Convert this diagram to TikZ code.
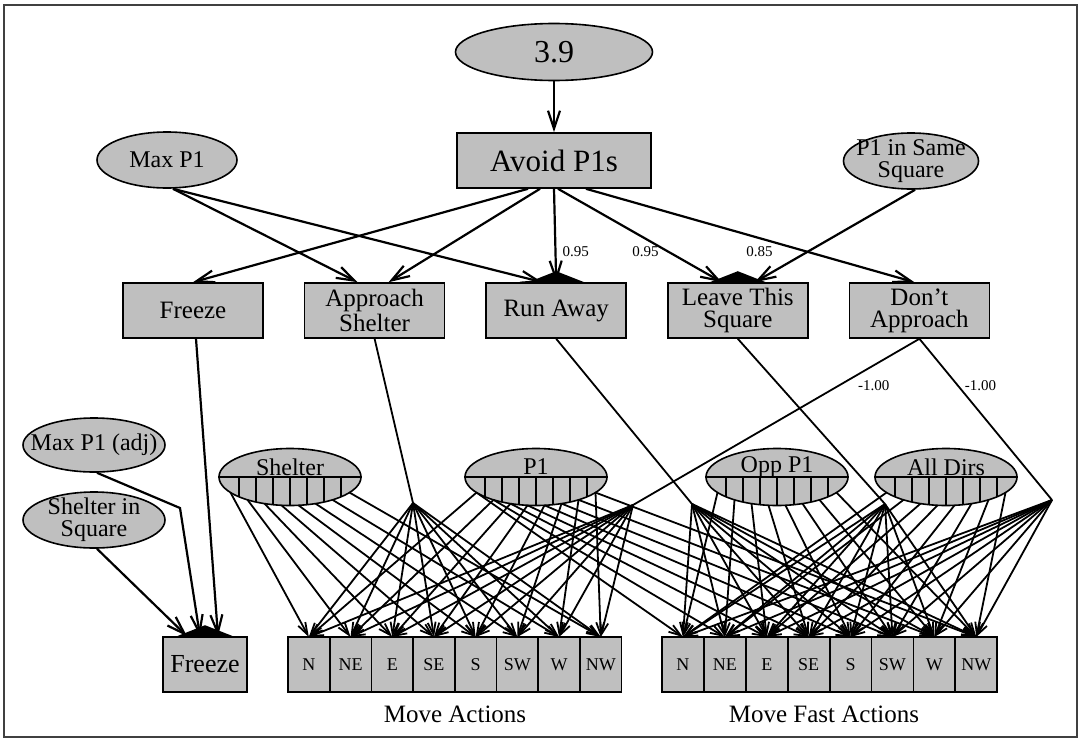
\documentclass[tikz,border=0pt]{standalone}
\usepackage{fontspec}
\setmainfont{Liberation Serif}
\usetikzlibrary{arrows.meta, positioning, shapes.geometric}

\begin{document}
\begin{tikzpicture}[
    x=0.5pt, y=-0.5pt,
    node distance=20pt and 20pt,
    every node/.style={align=center, inner sep=0pt},
    box/.style={draw, fill=black!25, line width=0.8pt, minimum height=27.5pt, font=\fontsize{12.5}{11}\selectfont},
    actbox/.style={box, minimum width=70pt},
    cell/.style={box, minimum width=20.85pt, outer sep=0pt, font=\fontsize{9}{9}\selectfont},
    oval/.style={draw, ellipse, fill=black!25, line width=0.8pt, inner xsep=-12pt, inner ysep=-4pt, minimum width=70pt, minimum height=28pt, font=\fontsize{12}{11}\selectfont},
    sensor/.style={oval, minimum width=71pt, minimum height=28.5pt},
    link/.style={-{Straight Barb[length=9pt, width=6pt]}, line width=1.1pt},
    wire/.style={-{Straight Barb[length=6pt, width=4pt]}, line width=0.9pt},
    feed/.style={line width=0.9pt},
    weight/.style={font=\fontsize{7.5}{8}\selectfont},
    mound/.style={fill=black}
]
\useasboundingbox (0,0) rectangle (1080,739);
\draw[line width=1pt, black!75] (4,5) rectangle (1077,737);

% Top nodes
\node[oval, minimum width=98.5pt, minimum height=28.5pt, font=\fontsize{16}{18}\selectfont] (root) at (554,52) {3.9};
\node[box, minimum width=97pt, font=\fontsize{15.5}{18}\selectfont] (avoid) at (554,160.5) {Avoid P1s};
\node[oval] (maxp) at (167,160) {Max P1};
\node[oval, minimum width=67.5pt] (same) at (911,161) {P1 in Same\\Square};

% Sub-behaviours
\node[actbox] (freeze) at (193,310.5) {Freeze};
\node[actbox, right=of freeze] (approach) {Approach\\Shelter};
\node[actbox, right=of approach] (runaway) {Run Away};
\node[actbox, right=of runaway] (leave) {Leave This\\Square};
\node[actbox, right=of leave] (dontapp) {Don't\\Approach};

% Inputs of the freeze action
\node[oval, minimum width=71pt, minimum height=27pt] (maxadj) at (94,445) {Max P1 (adj)};
\node[oval, minimum width=71pt] (shsq) at (94,520) {Shelter in\\Square};

% Direction sensors, one slot per direction
\foreach \nm/\cx/\txt in {shelter/290/Shelter, p1/536/P1, opp/777/Opp P1, dirs/946/All Dirs} {
  \node[sensor] (\nm) at (\cx,477) {};
  \node[font=\fontsize{12}{11}\selectfont] (\nm-name) at (\cx,467) {\txt};
  \draw[line width=0.8pt] (\nm.west) -- (\nm.east);
  \foreach \b in {-51,-34,...,51} {
    \pgfmathsetmacro\bary{477+28.5*sqrt(1-(\b/71)^2)}
    \draw[line width=0.8pt] (\cx+\b,477) -- (\cx+\b,\bary);
  }
  \foreach \k in {1,...,8} {
    \pgfmathsetmacro\slotx{(\k-4.5)*17}
    \pgfmathsetmacro\sloty{477+28.5*sqrt(1-(\slotx/71)^2)}
    \coordinate (\nm-\k) at (\cx+\slotx,\sloty);
  }
}

% Actions
\node[box, minimum width=42pt, font=\fontsize{13}{14}\selectfont] (freezeact) at (205,664.5) {Freeze};
\foreach \d [count=\i] in {N,NE,E,SE,S,SW,W,NW} {
  \node[cell] (mv-\i) at ({288+41.7*(\i-0.5)},664.5) {\d};
  \node[cell] (mf-\i) at ({662+41.9*(\i-0.5)},664.5) {\d};
}
\node[font=\fontsize{12.5}{14}\selectfont] (mvlbl) at (455,714) {Move Actions};
\node[font=\fontsize{12.5}{14}\selectfont] (mflbl) at (824,714) {Move Fast Actions};

% Branch points
\coordinate (fan-as) at (413,503);
\coordinate (fan-dm) at (633,505);
\coordinate (fan-ra) at (692,504);
\coordinate (fan-lt) at (885,504);
\coordinate (fan-df) at (1052,500);
\coordinate (bend-adj) at (180,508);

% Upper arrows
\draw[link] (root) -- (avoid);
\draw[link] ([xshift=-13pt]avoid.south) -- (freeze.north);
\draw[link] ([xshift=-7pt]avoid.south) -- ([xshift=7pt]approach.north);
\draw[link] (avoid.south) -- node[weight, pos=0.67, right=3pt] (w-ra) {0.95} (runaway.north);
\draw[link] ([xshift=2pt]avoid.south) -- node[weight, pos=0.67, left=4pt] (w-lt) {0.95} ([xshift=-8pt]leave.north);
\draw[link] ([xshift=16pt]avoid.south) -- ([xshift=-2.5pt]dontapp.north);
\draw[link] ([xshift=3pt]maxp.south) -- ([xshift=-8.5pt]approach.north);
\draw[link] ([xshift=3pt]maxp.south) -- ([xshift=-7pt]runaway.north);
\draw[link] ([xshift=2pt]same.south) -- node[weight, pos=0.67, left=17pt] (w-same) {0.85} ([xshift=8.5pt]leave.north);

% Freeze
\draw[link] ([xshift=1.5pt]freeze.south) -- ([xshift=6.5pt]freezeact.north);
\draw[link] ([xshift=1.5pt]maxadj.south) -- (bend-adj) -- ([xshift=-2.5pt]freezeact.north);
\draw[link] ([xshift=1.5pt]shsq.south) -- ([xshift=-9pt]freezeact.north);

% Down to the branch points
\draw[feed] (approach.south) -- (fan-as);
\draw[feed] (runaway.south) -- (fan-ra);
\draw[feed] (leave.south) -- (fan-lt);
\draw[feed] (dontapp.south) -- node[weight, pos=0.28, right=9pt] (w-dm) {-1.00} (fan-dm);
\draw[feed] (dontapp.south) -- node[weight, pos=0.29, right=3pt] (w-df) {-1.00} (fan-df);

% Direction wiring
\foreach \i in {1,...,8} {
  \draw[wire] (shelter-\i) -- (mv-\i.north);
  \draw[wire] (fan-as) -- (mv-\i.north);
  \draw[wire] (p1-\i) -- (mv-\i.north);
  \draw[wire] (fan-dm) -- (mv-\i.north);
  \draw[wire] (p1-\i) -- (mf-\i.north);
  \draw[wire] (fan-ra) -- (mf-\i.north);
  \draw[wire] (opp-\i) -- (mf-\i.north);
  \draw[wire] (fan-lt) -- (mf-\i.north);
  \draw[wire] (dirs-\i) -- (mf-\i.north);
  \draw[wire] (fan-df) -- (mf-\i.north);
}

% Merge marks
\foreach \n in {runaway, leave, freezeact} {
  \fill[mound] ([xshift=-14pt]\n.north) -- ([yshift=5.5pt]\n.north) -- ([xshift=14pt]\n.north) -- cycle;
}

\end{tikzpicture}
\end{document}
